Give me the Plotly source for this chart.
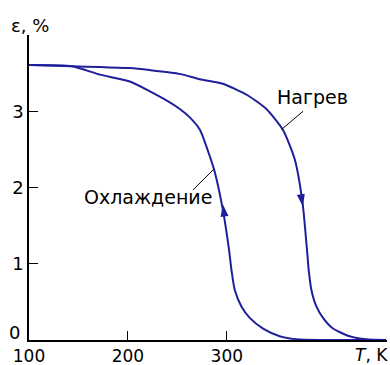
import plotly.graph_objects as go

# Heating curve (Нагрев)
heat_T = [100, 143.4, 171.7, 202, 222, 252.5, 272.7, 296, 321, 340, 356.6, 368.7, 376.8,
          381.1, 382.8, 385.5, 390.6, 397.3, 407.4, 424.2, 441, 461]
heat_e = [3.605, 3.59, 3.58, 3.566, 3.54, 3.49, 3.42, 3.36, 3.21, 3.03, 2.76, 2.37, 1.78,
          1.18, 0.92, 0.66, 0.44, 0.29, 0.15, 0.05, 0.01, 0.0]

# Cooling curve (Охлаждение)
cool_T = [100, 143.4, 171.7, 202, 239.4, 252.5, 262.6, 272.7, 282.8, 287.9, 296, 302.3,
          304.7, 308, 314.8, 323.2, 336.7, 353.5, 370.4, 400, 461]
cool_e = [3.605, 3.59, 3.48, 3.39, 3.14, 3.03, 2.92, 2.76, 2.41, 2.20, 1.71, 1.18,
          0.92, 0.66, 0.44, 0.29, 0.15, 0.05, 0.01, 0.0, 0.0]

x_ticks = [100, 200, 300]
y_ticks = [0, 1, 2, 3]
y_ticktext = ["", "1", "2", "3"]

COLOR = "#1f1f9c"
FONT = "DejaVu Sans"
W, H = 390, 365
ML, MR, MT, MB = 29, 3, 35, 25

def px_x(p):
    return (p - ML) / (W - ML - MR)

def px_y(p):
    return (H - MB - p) / (H - MT - MB)

fig = go.Figure()
fig.add_trace(go.Scatter(x=heat_T, y=heat_e, mode="lines",
                         line=dict(color=COLOR, width=2, shape="spline", smoothing=0.6),
                         hoverinfo="skip"))
fig.add_trace(go.Scatter(x=cool_T, y=cool_e, mode="lines",
                         line=dict(color=COLOR, width=2, shape="spline", smoothing=0.6),
                         hoverinfo="skip"))
# direction arrows
fig.add_trace(go.Scatter(x=[377.0, 296.0], y=[1.75, 1.78], mode="markers",
                         marker=dict(symbol="arrow", size=13, color=COLOR,
                                     angle=[170, -8], line=dict(width=0)),
                         hoverinfo="skip"))

# leader lines
fig.add_shape(type="line", x0=377.1, y0=3.00, x1=355.3, y1=2.76,
              line=dict(color="black", width=1))
fig.add_shape(type="line", x0=266, y0=1.97, x1=286.9, y1=2.24,
              line=dict(color="black", width=1))

fig.add_annotation(x=386.4, y=3.19, text="Нагрев", showarrow=False,
                   font=dict(family=FONT, size=19, color="black"))
fig.add_annotation(x=220.2, y=1.87, text="Охлаждение", showarrow=False,
                   font=dict(family=FONT, size=19, color="black"))
fig.add_annotation(x=px_x(30), xref="paper", y=px_y(26), yref="paper",
                   xanchor="center", yanchor="middle",
                   text="ε, %", showarrow=False,
                   font=dict(family=FONT, size=18, color="black"))
fig.add_annotation(x=px_x(371), xref="paper", y=px_y(355), yref="paper",
                   xanchor="center", yanchor="middle",
                   text="<i>T</i>, K", showarrow=False,
                   font=dict(family=FONT, size=17, color="black"))
# y "0" label sits slightly above the x axis, as in the reference
fig.add_annotation(x=px_x(14), xref="paper", y=px_y(332), yref="paper",
                   xanchor="center", yanchor="middle",
                   text="0", showarrow=False,
                   font=dict(family=FONT, size=18, color="black"))

fig.update_layout(
    width=W, height=H,
    margin=dict(l=ML, r=MR, t=MT, b=MB),
    paper_bgcolor="white", plot_bgcolor="white",
    showlegend=False,
    font=dict(family=FONT, size=18, color="black"),
    xaxis=dict(range=[100, 462], tickvals=x_ticks, ticks="inside", ticklen=9,
               tickcolor="black", tickwidth=1, showline=True, linecolor="black",
               linewidth=1.5, showgrid=False, zeroline=False, automargin=False,
               tickfont=dict(family=FONT, size=17)),
    yaxis=dict(range=[0, 4.0], tickvals=y_ticks, ticktext=y_ticktext,
               ticks="inside", ticklen=9,
               tickcolor="black", tickwidth=1, showline=True, linecolor="black",
               linewidth=1.5, showgrid=False, zeroline=False, automargin=False,
               tickfont=dict(family=FONT, size=18)),
)

fig.write_html("out.html", config={"displayModeBar": False},
               post_script="document.body.style.margin='0';")
